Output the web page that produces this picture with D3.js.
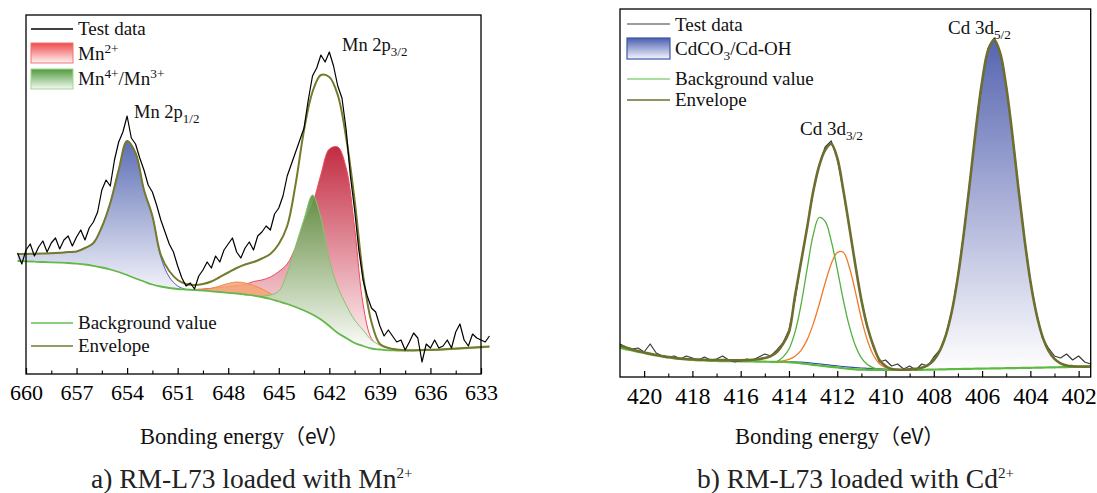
<!DOCTYPE html>
<html>
<head>
<meta charset="utf-8">
<script src="https://cdn.jsdelivr.net/npm/d3@7"></script>
<style>
  html, body { margin: 0; padding: 0; background: #fff; }
  svg { display: block; font-family: "Liberation Serif", "Times New Roman", serif; }
</style>
</head>
<body>
<svg id="chart" width="1097" height="493"></svg>
<script>
// ---------- Panel a: Mn 2p spectrum (binding energy, eV; intensity, a.u.) ----------
// fitted curves sampled every 0.5 eV from 660.5 eV down to 632.5 eV
const mnFitStart = 660.5, mnFitStep = 0.5;
const mnBackground = [1130,1127,1123,1120,1117,1114,1110,1103,1095,1082,1065,1045,1020,990,955,925,895,875,860,850,
  845,839,833,827,820,812,805,795,785,770,750,725,700,670,635,595,545,480,410,360,
  310,280,255,245,237,235,233,234,237,240,242,247,252,257,262,267,273];
const mnEnvelope = [1200,1200,1203,1205,1207,1212,1220,1225,1260,1310,1470,1710,2040,2330,2210,1840,1580,1190,1030,940,
  900,890,900,925,970,1015,1060,1095,1120,1155,1200,1300,1480,1900,2440,2820,2990,2970,2790,2360,
  1740,990,520,300,260,245,237,237,240,243,245,250,255,260,265,270,275];
const n = null;
// Mn 2p1/2 component
const mnHalf = [1200,1200,1203,1205,1207,1212,1220,1225,1260,1310,1470,1710,2040,2330,2210,1840,1580,1170,970,880,
  845,n,n,n,n,n,n,n,n,n,n,n,n,n,n,n,n,n,n,n,n,n,n,n,n,n,n,n,n,n,n,n,n,n,n,n,n];
// Mn2+ component
const mnTwoPlus = [n,n,n,n,n,n,n,n,n,n,n,n,n,n,n,n,n,n,n,n,n,
  845,850,857,865,872,885,895,925,940,970,1025,1100,1270,1515,1695,1995,2250,2270,2060,1460,700,355,275,237,
  n,n,n,n,n,n,n,n,n,n,n,n];
// Mn4+/Mn3+ component
const mnFourPlus = [n,n,n,n,n,n,n,n,n,n,n,n,n,n,n,n,n,n,n,n,n,n,n,n,n,n,n,n,
  785,778,790,830,1010,1280,1550,1790,1560,1140,870,690,540,440,340,290,260,245,233,
  n,n,n,n,n,n,n,n,n,n];
// satellite
const mnSatellite = [n,n,n,n,n,n,n,n,n,n,n,n,n,n,n,n,n,n,n,n,n,
  840,845,857,880,905,920,910,885,850,805,755,715,675,635,
  n,n,n,n,n,n,n,n,n,n,n,n,n,n,n,n,n,n,n,n,n,n];
// measured spectrum, every 0.25 eV from 660.5 eV to 632.5 eV
const mnTestStart = 660.5, mnTestStep = 0.25;
const mnTest = [1210,1100,1240,1300,1180,1270,1330,1220,1310,1360,1250,1340,1380,1280,1370,1440,1340,1460,1520,1620,
  1840,1940,1880,2140,2320,2420,2580,2360,2300,2160,2040,1890,1820,1690,1540,1420,1300,1220,1080,960,
  880,910,850,980,1040,1120,1060,1180,1120,1240,1300,1360,1220,1160,1260,1320,1240,1380,1420,1480,
  1440,1600,1660,1780,1980,2100,2220,2340,2460,2740,2980,3060,3190,3120,3220,3080,2880,2760,2440,1980,
  1640,1240,940,780,660,620,480,380,440,380,320,340,240,320,410,360,120,300,260,340,
  260,280,340,260,420,500,340,280,400,360,340,320,380];
const mnTicks = [660, 657, 654, 651, 648, 645, 642, 639, 636, 633];
const mnMinorTicks = [658.5, 655.5, 652.5, 649.5, 646.5, 643.5, 640.5, 637.5, 634.5];

// ---------- Panel b: Cd 3d spectrum ----------
// every 0.25 eV from 421 eV down to 401.5 eV
const cdStart = 421, cdStep = 0.25;
const cdBackground = [290,277,265,252,240,227,215,205,195,187,180,175,170,167,165,162,160,159,158,158,
  157,156,155,154,153,152,151,150,148,143,137,130,122,115,108,101,95,88,82,77,
  74,72,71,70,70,70,70,70,70,71,72,73,74,76,77,79,80,81,82,83,
  84,85,86,87,88,89,90,91,92,93,94,96,97,98,99,101,102,103,105];
const cdEnvelope = [310,295,275,260,245,232,220,210,200,192,185,180,177,174,172,170,170,169,168,168,
  168,169,172,178,190,210,250,330,450,810,1150,1490,1850,2110,2270,2330,2190,1870,1500,1120,
  770,500,310,170,110,80,75,73,76,82,93,118,169,263,418,659,1006,1448,1960,2495,
  2953,3269,3371,3238,2903,2432,1897,1394,961,635,407,265,182,137,116,108,105,104,105];
// CdCO3/Cd-OH component
const cdCarbonate = [n,n,n,n,n,n,n,n,n,n,n,n,n,n,n,n,n,n,n,n,n,n,n,n,n,n,
  151,152,153,151,148,143,137,131,124,117,111,104,98,93,90,87,84,81,78,76,74,73,74,80,91,
  118,169,263,418,659,1006,1448,1960,2495,2953,3269,3371,3238,2903,2432,1897,1394,961,635,407,265,182,137,116,108,105,104,105];
// Cd 3d3/2 components
const cdPeakA = [n,n,n,n,n,n,n,n,n,n,n,n,n,n,n,n,n,n,n,n,n,n,n,n,n,n,
  153,199,280,449,723,1078,1416,1595,1556,1362,1079,770,508,314,191,124,92,77,70,
  n,n,n,n,n,n,n,n,n,n,n,n,n,n,n,n,n,n,n,n,n,n,n,n,n,n,n,n,n,n,n,n,n,n];
const cdPeakB = [n,n,n,n,n,n,n,n,n,n,n,n,n,n,n,n,n,n,n,n,n,n,n,n,n,n,
  155,161,176,207,267,371,526,725,940,1131,1244,1248,1098,854,585,365,218,133,94,78,70,
  n,n,n,n,n,n,n,n,n,n,n,n,n,n,n,n,n,n,n,n,n,n,n,n,n,n,n,n,n,n,n,n];
const cdTest = [330,300,280,290,250,330,240,210,200,210,180,210,190,170,200,170,180,210,170,150,
  160,180,170,200,230,210,270,340,470,770,1150,1490,1850,2120,2300,2360,2190,1860,1500,1120,
  770,500,300,150,170,110,130,80,110,70,130,110,200,270,420,660,1010,1450,1960,2490,
  2950,3290,3390,3250,2910,2440,1900,1400,960,640,390,290,210,190,230,170,210,150,130];
const cdTicks = [420, 418, 416, 414, 412, 410, 408, 406, 404, 402];
const cdMinorTicks = [419, 417, 415, 413, 411, 409, 407, 405, 403];

// ---------- drawing ----------
const svg = d3.select('#chart');
const defs = svg.append('defs');
const SERIF = '"Liberation Serif", "Times New Roman", serif';
const CJK = '"Noto Sans CJK SC", "Noto Sans", sans-serif';

function vGrad(id, stops) {
  const g = defs.append('linearGradient').attr('id', id)
    .attr('x1', 0).attr('y1', 0).attr('x2', 0).attr('y2', 1);
  stops.forEach(([o, c, op]) => g.append('stop').attr('offset', o).attr('stop-color', c).attr('stop-opacity', op ?? 1));
}
vGrad('gBlueA', [[0, '#5d6fb5'], [1, '#f2f2fa']]);
vGrad('gRed', [[0, '#c22c42'], [0.55, '#e59aa6'], [1, '#fff8f8']]);
vGrad('gGreen', [[0, '#5a9240'], [0.6, '#b9d3ad'], [1, '#ffffff']]);
vGrad('gBlueB', [[0, '#5665b0'], [0.55, '#b4b9dc'], [1, '#ffffff']]);
vGrad('lgRed', [[0, '#f04a4a'], [1, '#fff4f4']]);
vGrad('lgGreen', [[0, '#4f9a3c'], [1, '#f4faf2']]);
vGrad('lgBlue', [[0, '#4b5eb0'], [1, '#f6f6fc']]);

const series = (start, step, vals) => vals.map((v, i) => ({ e: start - step * i, v }));
const pairs = (start, step, top, base) => top.map((v, i) => ({ e: start - step * i, v, b: base[i] }));

// text with sub/superscript parts
function label(g, xPos, yPos, parts, size, family) {
  const t = g.append('text').attr('x', xPos).attr('y', yPos).attr('font-size', size)
    .attr('font-family', family || SERIF).attr('fill', '#111');
  let shift = 0;
  parts.forEach(p => {
    const target = p.sub ? size * 0.27 : p.sup ? -size * 0.38 : 0;
    t.append('tspan').attr('dy', target - shift).attr('font-size', (p.sub || p.sup) ? size * (p.scale || 0.7) : size).text(p.t);
    shift = target;
  });
  return t;
}

function panel(cfg) {
  const { x, y } = cfg;
  const g = svg.append('g');
  const smooth = d3.curveCatmullRom.alpha(0.5);
  const line = d3.line().defined(d => d.v != null).x(d => x(d.e)).y(d => y(d.v)).curve(smooth);
  const rawLine = d3.line().x(d => x(d.e)).y(d => y(d.v));
  const area = d3.area().defined(d => d.v != null).x(d => x(d.e)).y0(d => y(d.b)).y1(d => y(d.v)).curve(smooth);

  cfg.fills.forEach(f => {
    const data = pairs(cfg.start, cfg.step, f.values, cfg.background);
    g.append('path').attr('d', area(data)).attr('fill', f.fill).attr('fill-opacity', f.opacity ?? 1);
    if (f.stroke) g.append('path').attr('d', line(data)).attr('fill', 'none')
      .attr('stroke', f.stroke).attr('stroke-width', f.width ?? 1);
  });
  cfg.lines.forEach(l => {
    const data = l.raw ? series(l.start, l.step, l.values) : series(cfg.start, cfg.step, l.values);
    g.append('path').attr('d', (l.raw ? rawLine : line)(data)).attr('fill', 'none')
      .attr('stroke', l.stroke).attr('stroke-width', l.width).attr('stroke-linejoin', 'round');
  });

  // frame
  const [x0, x1] = x.range(), [y0, y1] = y.range();
  g.append('rect').attr('x', x0).attr('y', y1).attr('width', x1 - x0).attr('height', y0 - y1)
    .attr('fill', 'none').attr('stroke', '#000').attr('stroke-width', 1.3);

  // inward ticks on the bottom axis
  const major = d3.axisBottom(x).tickValues(cfg.ticks).tickSize(-6).tickSizeOuter(0)
    .tickPadding(10).tickFormat(d3.format('d'));
  const minor = d3.axisBottom(x).tickValues(cfg.minorTicks).tickSize(-3.5).tickSizeOuter(0).tickFormat('');
  const ax = g.append('g').attr('transform', `translate(0,${y0})`).call(major);
  ax.select('.domain').remove();
  ax.selectAll('line').attr('stroke', '#000').attr('stroke-width', 1.2);
  ax.selectAll('text').attr('font-family', SERIF).attr('font-size', cfg.tickSize).attr('fill', '#000');
  const axm = g.append('g').attr('transform', `translate(0,${y0})`).call(minor);
  axm.select('.domain').remove();
  axm.selectAll('line').attr('stroke', '#000').attr('stroke-width', 1.1);

  // axis title
  const t = g.append('text').attr('x', cfg.titleX).attr('y', 444).attr('font-size', 22.5).attr('fill', '#111');
  t.append('tspan').attr('font-family', SERIF).text('Bonding energy');
  t.append('tspan').attr('font-family', CJK).attr('font-size', 21).text('（eV）');
  // caption
  label(g, cfg.captionX, 488, cfg.caption, 27.5).attr('fill', '#222');
  return g;
}

// ---- panel a ----
const xA = d3.scaleLinear().domain([660, 633]).range([26, 481]);
const yA = d3.scaleLinear().domain([0, 3590]).range([374, 15]);
const gA = panel({
  x: xA, y: yA, start: mnFitStart, step: mnFitStep, background: mnBackground,
  ticks: mnTicks, minorTicks: mnMinorTicks, tickSize: 22, titleX: 140, captionX: 91,
  caption: [{ t: 'a) RM-L73 loaded with Mn' }, { t: '2+', sup: true, scale: 0.55 }],
  fills: [
    { values: mnHalf, fill: 'url(#gBlueA)', stroke: '#4a5db0', width: 1 },
    { values: mnTwoPlus, fill: 'url(#gRed)', stroke: '#ee4a5a', width: 1 },
    { values: mnSatellite, fill: '#f5a574', opacity: 0.85, stroke: '#f08a48', width: 1 },
    { values: mnFourPlus, fill: 'url(#gGreen)', opacity: 0.9, stroke: '#86c46c', width: 1 }
  ],
  lines: [
    { values: mnBackground, stroke: '#62b848', width: 1.8 },
    { values: mnEnvelope, stroke: '#767a2c', width: 2 },
    { values: mnTest, stroke: '#000', width: 1.2, raw: true, start: mnTestStart, step: mnTestStep }
  ]
});
// legend a
gA.append('line').attr('x1', 31).attr('x2', 73).attr('y1', 29).attr('y2', 29).attr('stroke', '#000').attr('stroke-width', 1.3);
label(gA, 78, 35, [{ t: 'Test data' }], 19);
gA.append('rect').attr('x', 31).attr('y', 43).attr('width', 42).attr('height', 20)
  .attr('fill', 'url(#lgRed)').attr('stroke', '#f07272').attr('stroke-width', 1);
label(gA, 78, 60, [{ t: 'Mn' }, { t: '2+', sup: true }], 19);
gA.append('rect').attr('x', 31).attr('y', 69).attr('width', 42).attr('height', 20)
  .attr('fill', 'url(#lgGreen)').attr('stroke', '#a2d890').attr('stroke-width', 1);
label(gA, 78, 85, [{ t: 'Mn' }, { t: '4+', sup: true }, { t: '/Mn' }, { t: '3+', sup: true }], 19);
gA.append('line').attr('x1', 31).attr('x2', 73).attr('y1', 323).attr('y2', 323).attr('stroke', '#62c050').attr('stroke-width', 1.3);
label(gA, 78, 329, [{ t: 'Background value' }], 19);
gA.append('line').attr('x1', 31).attr('x2', 73).attr('y1', 346).attr('y2', 346).attr('stroke', '#767a2c').attr('stroke-width', 1.5);
label(gA, 78, 352, [{ t: 'Envelope' }], 19);
// peak labels a
label(gA, 134, 118, [{ t: 'Mn 2p' }, { t: '1/2', sub: true }], 18.5);
label(gA, 342, 51, [{ t: 'Mn 2p' }, { t: '3/2', sub: true }], 18.5);

// ---- panel b ----
const xB = d3.scaleLinear().domain([421, 401.5]).range([620, 1090.7]);
const yB = d3.scaleLinear().domain([0, 3680]).range([377, 9]);
const gB = panel({
  x: xB, y: yB, start: cdStart, step: cdStep, background: cdBackground,
  ticks: cdTicks, minorTicks: cdMinorTicks, tickSize: 23.5, titleX: 735, captionX: 697,
  caption: [{ t: 'b) RM-L73 loaded with Cd' }, { t: '2+', sup: true, scale: 0.55 }],
  fills: [
    { values: cdCarbonate, fill: 'url(#gBlueB)', stroke: '#3452b0', width: 1.2 }
  ],
  lines: [
    { values: cdPeakB, stroke: '#f27a2c', width: 1.3 },
    { values: cdPeakA, stroke: '#52b03e', width: 1.3 },
    { values: cdBackground, stroke: '#5cba40', width: 2.2 },
    { values: cdTest, stroke: '#3a3a3a', width: 1.2, raw: true, start: cdStart, step: cdStep },
    { values: cdEnvelope, stroke: '#6e6e2e', width: 2.6 }
  ]
});
// legend b
gB.append('line').attr('x1', 627).attr('x2', 670).attr('y1', 24).attr('y2', 24).attr('stroke', '#3a3a3a').attr('stroke-width', 1.2);
label(gB, 675, 30.5, [{ t: 'Test data' }], 19);
gB.append('rect').attr('x', 627).attr('y', 38).attr('width', 43).attr('height', 21)
  .attr('fill', 'url(#lgBlue)').attr('stroke', '#3a58a8').attr('stroke-width', 1.2);
label(gB, 675, 55, [{ t: 'CdCO' }, { t: '3', sub: true }, { t: '/Cd-OH' }], 19);
gB.append('line').attr('x1', 627).attr('x2', 670).attr('y1', 79).attr('y2', 79).attr('stroke', '#52c040').attr('stroke-width', 1.2);
label(gB, 675, 84.5, [{ t: 'Background value' }], 19);
gB.append('line').attr('x1', 627).attr('x2', 670).attr('y1', 100).attr('y2', 100).attr('stroke', '#6e6e2e').attr('stroke-width', 1.5);
label(gB, 675, 106, [{ t: 'Envelope' }], 19);
// peak labels b
label(gB, 800, 135, [{ t: 'Cd 3d' }, { t: '3/2', sub: true }], 19);
label(gB, 948, 34, [{ t: 'Cd 3d' }, { t: '5/2', sub: true }], 19);
</script>
</body>
</html>
